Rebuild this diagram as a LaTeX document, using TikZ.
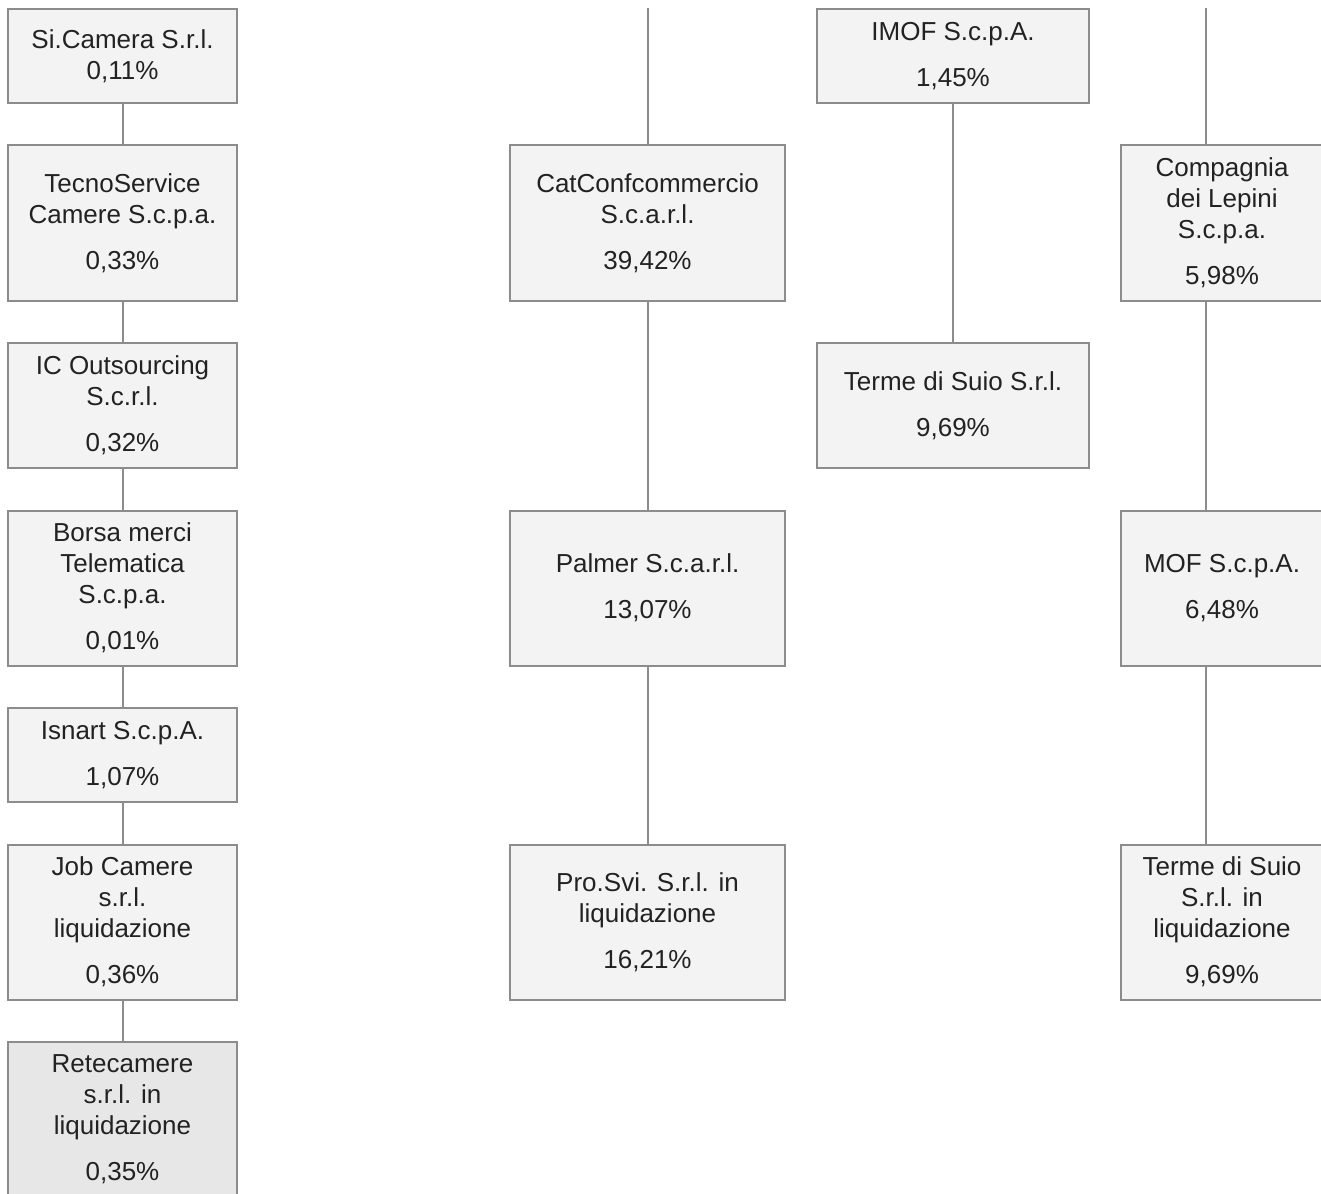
\documentclass[tikz,border=0pt]{standalone}
\usepackage{fontspec}
\setmainfont{Liberation Sans}
\usetikzlibrary{positioning,calc}
\definecolor{Box}{HTML}{F3F3F3}
\definecolor{BoxDark}{HTML}{E7E7E7}
\definecolor{Edge}{HTML}{8C8C8C}
\definecolor{Ink}{HTML}{222222}
\tikzset{
  quota/.style={draw=Edge,fill=Box,line width=2pt,align=center,text=Ink,font=\fontsize{26}{31}\selectfont,inner sep=2pt,outer sep=0pt},
  small/.style={minimum height=94pt},
  mid/.style={minimum height=125pt},
  tall/.style={minimum height=155pt},
  link/.style={draw=Edge,line width=2pt}
}
\begin{document}
\begin{tikzpicture}[x=1pt,y=-1pt,node distance=42.5pt and 273pt]
  \useasboundingbox (0,0) rectangle (1321,1193);
  \clip (0,0) rectangle (1321,1193);
  % column 1
  \node[quota,small,minimum width=229pt,anchor=north west] (sicamera) at (8,9) {Si.Camera S.r.l.\\0,11\%};
  \node[quota,tall,minimum width=229pt,below=of sicamera] (tecno) {TecnoService\\Camere S.c.p.a.\\[15pt]0,33\%};
  \node[quota,mid,minimum width=229pt,below=of tecno] (icout) {IC Outsourcing\\S.c.r.l.\\[15pt]0,32\%};
  \node[quota,tall,minimum width=229pt,below=of icout] (borsa) {Borsa merci\\Telematica\\S.c.p.a.\\[15pt]0,01\%};
  \node[quota,small,minimum width=229pt,below=of borsa] (isnart) {Isnart S.c.p.A.\\[15pt]1,07\%};
  \node[quota,tall,minimum width=229pt,below=of isnart] (jobcam) {Job Camere\\s.r.l.\\liquidazione\\[15pt]0,36\%};
  \node[quota,tall,minimum width=229pt,fill=BoxDark,below=of jobcam] (retecam) {Retecamere\\s.r.l. in\\liquidazione\\[15pt]0,35\%};
  % column 2
  \node[quota,tall,minimum width=275pt,right=of tecno] (catconf) {CatConfcommercio\\S.c.a.r.l.\\[15pt]39,42\%};
  \node[quota,tall,minimum width=275pt,right=of borsa] (palmer) {Palmer S.c.a.r.l.\\[15pt]13,07\%};
  \node[quota,tall,minimum width=275pt,right=of jobcam] (prosvi) {Pro.Svi. S.r.l. in\\liquidazione\\[15pt]16,21\%};
  % column 3
  \node[quota,small,minimum width=272pt,right=580pt of sicamera] (imof) {IMOF S.c.p.A.\\[15pt]1,45\%};
  \node[quota,mid,minimum width=272pt,right=580pt of icout] (suio) {Terme di Suio S.r.l.\\[15pt]9,69\%};
  % column 4
  \node[quota,tall,minimum width=202pt,right=336pt of catconf] (lepini) {Compagnia\\dei Lepini\\S.c.p.a.\\[15pt]5,98\%};
  \node[quota,tall,minimum width=202pt,right=336pt of palmer] (mof) {MOF S.c.p.A.\\[15pt]6,48\%};
  \node[quota,tall,minimum width=202pt,right=336pt of prosvi] (suioliq) {Terme di Suio\\S.r.l. in\\liquidazione\\[15pt]9,69\%};
  \coordinate (cattop) at ([yshift=137pt]catconf.north);
  \coordinate (lepinitop) at ([xshift=-16pt,yshift=137pt]lepini.north);
  % connectors
  \draw[link] (sicamera) -- (tecno);
  \draw[link] (tecno) -- (icout);
  \draw[link] (icout) -- (borsa);
  \draw[link] (borsa) -- (isnart);
  \draw[link] (isnart) -- (jobcam);
  \draw[link] (jobcam) -- (retecam);
  \draw[link] (cattop) -- (catconf);
  \draw[link] (catconf) -- (palmer);
  \draw[link] (palmer) -- (prosvi);
  \draw[link] (imof) -- (suio);
  \draw[link] (lepinitop) -- ([xshift=-16pt]lepini.north);
  \draw[link] ([xshift=-16pt]lepini.south) -- ([xshift=-16pt]mof.north);
  \draw[link] ([xshift=-16pt]mof.south) -- ([xshift=-16pt]suioliq.north);
\end{tikzpicture}
\end{document}
